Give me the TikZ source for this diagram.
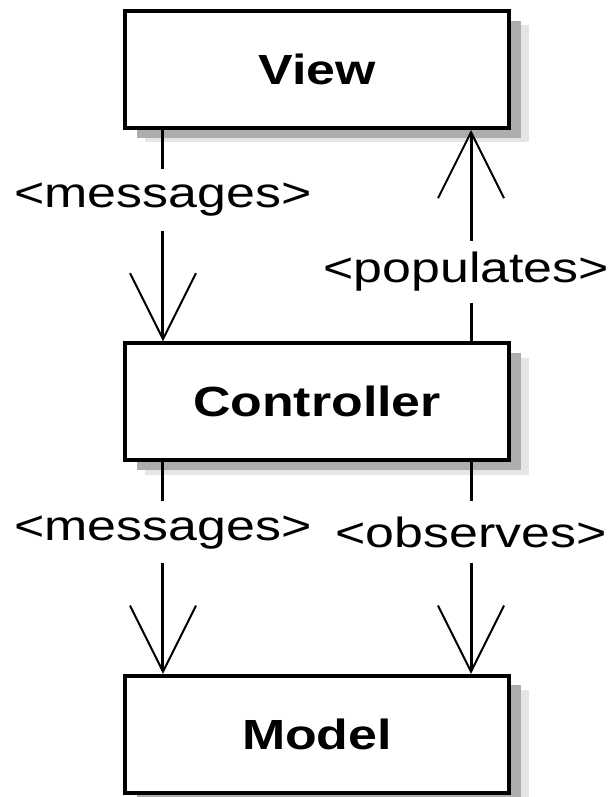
\documentclass[tikz,border=0pt]{standalone}
\usepackage{fontspec}
\setmainfont{Liberation Sans}
\usetikzlibrary{arrows.meta,shadows}

\newcommand{\widetext}[1]{\scalebox{1.23}[1]{#1}}

\begin{document}
\begin{tikzpicture}[node distance=8.31cm,
    block/.style={draw,line width=0.1cm,fill=white,minimum width=9.6cm,minimum height=2.925cm,
        font=\fontsize{30}{36}\selectfont\bfseries,
        drop shadow={shadow xshift=0.5cm,shadow yshift=-0.36cm,fill=black!10,opacity=1},
        drop shadow={shadow xshift=0.3cm,shadow yshift=-0.24cm,fill=black!32,opacity=1}},
    msg/.style={line width=0.075cm,-{Straight Barb[length=1.65cm,width=1.65cm,line width=0.05cm]}},
    tag/.style={fill=white,font=\fontsize{30}{36}\selectfont,minimum height=1.55cm,inner sep=0pt}]
    \useasboundingbox (-7.925,1.7375) rectangle (7.35,-18.1875);
    \node[block]  (view)                    {\widetext{View}};
    \node[block]  (ctrl)  [below of=view]   {\widetext{Controller}};
    \node[block]  (model) [below of=ctrl]   {\widetext{Model}};
    \path[msg]  ([xshift=-3.85cm]view.south)  edge  node[tag,pos=0.33] {\widetext{<messages>}}  ([xshift=-3.85cm]ctrl.north)
                ([xshift=3.85cm]ctrl.north)   edge  node[tag,pos=0.33,xshift=-0.12cm] {\widetext{<populates>}} ([xshift=3.85cm]view.south)
                ([xshift=-3.85cm]ctrl.south)  edge  node[tag,pos=0.33] {\widetext{<messages>}}  ([xshift=-3.85cm]model.north)
                ([xshift=3.85cm]ctrl.south)   edge  node[tag,pos=0.33] {\widetext{<observes>}}  ([xshift=3.85cm]model.north)
                ;
\end{tikzpicture}
\end{document}
